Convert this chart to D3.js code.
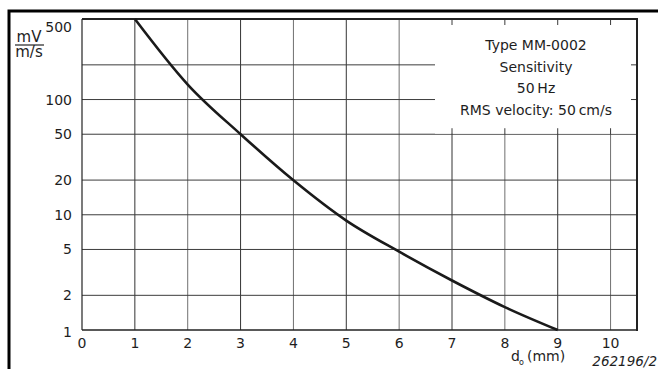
<!DOCTYPE html>
<html>
  <head>
    <meta charset="utf-8">
    <title>Sensitivity MM-0002</title>
    <script src="https://d3js.org/d3.v7.min.js"></script>
    <style>
      body { margin: 0; background: #fff; }
      text { font-family: "DejaVu Sans", "Liberation Sans", Arial, sans-serif; fill: #1e1e1e; }
    </style>
  </head>
  <body>
    <script type="text/javascript">
      // distance d_o (mm) vs sensitivity (mV per m/s)
      var distance = [1, 2, 3, 4, 5, 6, 7, 8, 9];
      var sensitivity = [500, 135, 50, 19.9, 8.9, 4.78, 2.69, 1.58, 1];

      var xTicks = [0, 1, 2, 3, 4, 5, 6, 7, 8, 9, 10];
      var yGrid = [1, 2, 5, 10, 20, 50, 100, 200, 500];
      var yLabels = [1, 2, 5, 10, 20, 50, 100, 500];
      var legendLines = ['Type MM-0002', 'Sensitivity', '50\u2009Hz', 'RMS velocity: 50\u2009cm/s'];

      var W = 658, H = 369;
      // plot area (note: "top" is taken by window.top, so use pT/pB etc.)
      var pL = 82, pR = 637, pT = 19, pB = 330;

      var x = d3.scaleLinear().domain([0, 10.5]).range([pL, pR]);
      var y = d3.scaleLog().domain([1, 500]).range([pB, pT]);

      var svg = d3.select('body').append('svg')
                  .attr('width', W)
                  .attr('height', H);

      // outer frame (top + left)
      svg.append('path')
         .attr('d', 'M9,' + H + 'V11H' + W)
         .attr('fill', 'none')
         .attr('stroke', '#000')
         .attr('stroke-width', 3);

      var grid = svg.append('g').attr('stroke', '#3c3c3c').attr('stroke-width', 1);
      grid.selectAll('line.v')
          .data(xTicks.slice(1))
          .enter().append('line')
          .attr('class', 'v')
          .attr('x1', d => x(d)).attr('x2', d => x(d))
          .attr('y1', pT).attr('y2', pB)
          .attr('stroke', (d, i) => i % 2 ? '#707070' : '#333');
      grid.selectAll('line.h')
          .data(yGrid.slice(1, -1))
          .enter().append('line')
          .attr('class', 'h')
          .attr('x1', pL).attr('x2', pR)
          .attr('y1', d => y(d)).attr('y2', d => y(d));

      // legend box covers the grid, leaves small tick stubs
      var bx0 = 435, by1 = y(50);
      svg.append('rect')
         .attr('x', bx0).attr('y', pT)
         .attr('width', pR - bx0).attr('height', by1 - pT - 0.5)
         .attr('fill', '#fff');
      var stubs = svg.append('g').attr('stroke', '#3a3a3a').attr('stroke-width', 1);
      xTicks.filter(d => x(d) > bx0).forEach(function (d) {
        stubs.append('line').attr('x1', x(d)).attr('x2', x(d)).attr('y1', pT).attr('y2', pT + 6);
        stubs.append('line').attr('x1', x(d)).attr('x2', x(d)).attr('y1', by1 - 6).attr('y2', by1);
      });
      [100, 200].forEach(function (d) {
        stubs.append('line').attr('x1', pR - 6).attr('x2', pR).attr('y1', y(d)).attr('y2', y(d));
      });

      var legend = svg.append('g')
                      .attr('text-anchor', 'middle')
                      .style('font-size', '14px');
      legend.selectAll('text')
            .data(legendLines)
            .enter().append('text')
            .attr('x', 536)
            .attr('y', (d, i) => 50 + i * 21.7)
            .text(d => d);

      // plot borders
      svg.append('line').attr('x1', pL).attr('x2', pL).attr('y1', pT).attr('y2', pB)
         .attr('stroke', '#222').attr('stroke-width', 1.2);
      svg.append('line').attr('x1', pL).attr('x2', pR).attr('y1', pB).attr('y2', pB)
         .attr('stroke', '#222').attr('stroke-width', 1.6);
      svg.append('line').attr('x1', pL).attr('x2', pR + 1).attr('y1', pT).attr('y2', pT)
         .attr('stroke', '#222').attr('stroke-width', 2.2);
      svg.append('line').attr('x1', pR).attr('x2', pR).attr('y1', pT).attr('y2', pB + 1)
         .attr('stroke', '#222').attr('stroke-width', 2);

      // curve
      var line = d3.line()
                   .x((d, i) => x(distance[i]))
                   .y(d => y(d))
                   .curve(d3.curveMonotoneX);
      svg.append('path')
         .datum(sensitivity)
         .attr('d', line)
         .attr('fill', 'none')
         .attr('stroke', '#1a1a1a')
         .attr('stroke-width', 2.6);

      // axis labels
      svg.append('g')
         .attr('text-anchor', 'middle')
         .style('font-size', '14px')
         .selectAll('text')
         .data(xTicks)
         .enter().append('text')
         .attr('x', d => x(d))
         .attr('y', 348)
         .text(d => d);

      svg.append('g')
         .attr('text-anchor', 'end')
         .style('font-size', '14px')
         .selectAll('text')
         .data(yLabels)
         .enter().append('text')
         .attr('x', 72)
         .attr('y', d => y(d) + (d === 500 ? 13 : d === 1 ? 7 : 5))
         .text(d => d);

      // unit fraction mV / (m/s)
      svg.append('text').attr('x', 29).attr('y', 42).attr('text-anchor', 'middle')
         .style('font-size', '15px').text('mV');
      svg.append('line').attr('x1', 15).attr('x2', 44).attr('y1', 45).attr('y2', 45)
         .attr('stroke', '#222').attr('stroke-width', 1.2);
      svg.append('text').attr('x', 29).attr('y', 57).attr('text-anchor', 'middle')
         .style('font-size', '15px').text('m/s');

      svg.append('text').attr('x', 511).attr('y', 361).style('font-size', '14px').text('d');
      svg.append('text').attr('x', 519).attr('y', 365).style('font-size', '8px').text('o');
      svg.append('text').attr('x', 527).attr('y', 361).style('font-size', '14px').text('(mm)');

      svg.append('text').attr('x', 657).attr('y', 366).attr('text-anchor', 'end')
         .style('font-size', '13.5px').style('font-style', 'italic').text('262196/2');
    </script>
  </body>
</html>
